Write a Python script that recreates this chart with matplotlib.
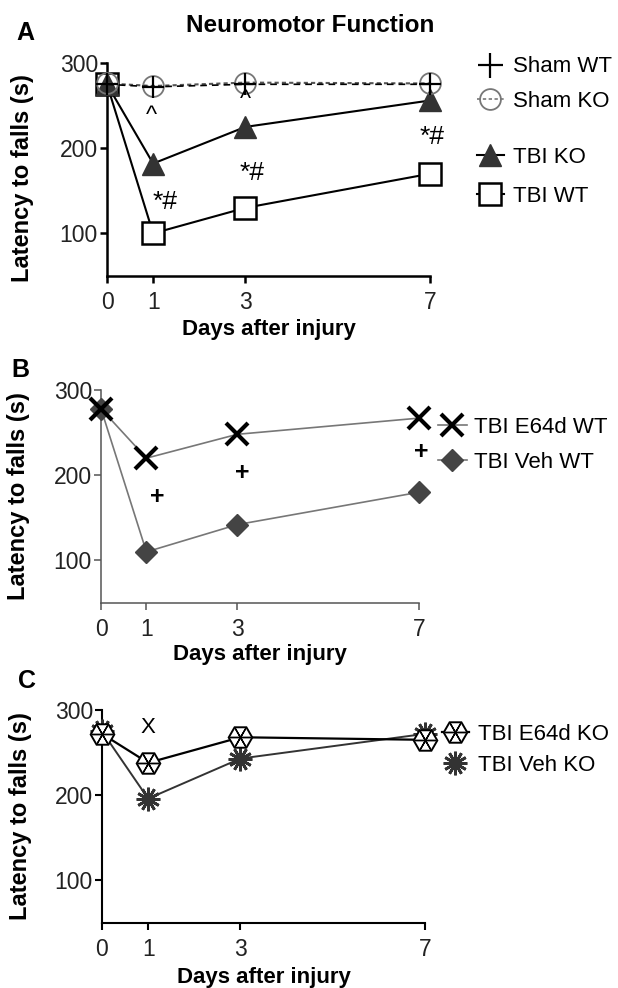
import matplotlib
matplotlib.use("Agg")
from matplotlib import pyplot as plt
from matplotlib.lines import Line2D

plt.rcParams['font.family'] = ['Liberation Sans', 'DejaVu Sans']

days = [0, 1, 3, 7]
day_ticks = [0, 1, 3, 7]
y_ticks = [100, 200, 300]

# panel A
sham_wt = [275, 272, 275, 275]
sham_ko = [276, 273, 277, 276]
tbi_ko = [275, 182, 225, 256]
tbi_wt = [275, 100, 130, 170]
a_caret_x = [0.96, 3.0]
a_caret_y = [238, 256]
a_star_x = [1.26, 3.15, 7.05]
a_star_y = [137, 171, 213]

# panel B
e64d_wt = [278, 220, 248, 267]
veh_wt = [278, 110, 142, 180]
b_plus_x = [1.23, 3.12, 7.05]
b_plus_y = [174, 202, 227]

# panel C
e64d_ko = [272, 238, 268, 265]
veh_ko = [275, 196, 243, 272]
c_x_x = [1.0]
c_x_y = [280]

W, H = 618, 988
fig = plt.figure(figsize=(W / 100, H / 100), dpi=100)


def px_axes(left, right, top, bottom):
    ax = fig.add_axes([left / W, 1 - bottom / H, (right - left) / W, (bottom - top) / H])
    ax.px_box = (left, right, top, bottom)
    return ax


def style_axes(ax, spine_col, lw, ylab_right, ylab_mid, xlab_top):
    left, right, top, bottom = ax.px_box
    ax.set_xlim(0, 7)
    ax.set_ylim(50, 300)
    ax.set_xticks(day_ticks)
    ax.set_yticks(y_ticks)
    ax.spines['top'].set_visible(False)
    ax.spines['right'].set_visible(False)
    for s in ['left', 'bottom']:
        ax.spines[s].set_color(spine_col)
        ax.spines[s].set_linewidth(lw)
    ax.tick_params(colors=spine_col, width=lw, length=5, labelsize=16.5,
                   labelcolor='#222222')
    ax.tick_params(axis='x', pad=6)
    ax.tick_params(axis='y', pad=1.5)
    ax.set_xlabel('Days after injury', fontsize=16, fontweight='bold')
    ax.set_ylabel('Latency to falls (s)', fontsize=17, fontweight='bold')
    ax.yaxis.set_label_coords((ylab_right - left) / (right - left),
                              (bottom - ylab_mid) / (bottom - top))
    ax.xaxis.set_label_coords(0.5, (bottom - xlab_top) / (bottom - top))


# ---------------- A ----------------
axA = px_axes(107, 430, 63, 276)
style_axes(axA, 'black', 1.8, 34, 178, 319)
axA.plot(days, tbi_wt, color='black', lw=1.5, marker='s', ms=16,
         mfc='white', mec='black', mew=1.8, clip_on=False, zorder=3)
axA.plot(days, tbi_ko, color='black', lw=1.5, marker='^', ms=16,
         mfc='#333333', mec='#333333', clip_on=False, zorder=4)
axA.plot(days, sham_ko, color='#555555', lw=1.5, ls=(0, (2, 1.5)), marker='o',
         ms=15, mfc='none', mec='#777777', mew=1.3, clip_on=False, zorder=5)
axA.plot(days, sham_wt, color='black', lw=1.2, ls=(0, (4, 3)), marker='+',
         ms=16, mec='black', mew=1.6, clip_on=False, zorder=6)
for x, y in zip(a_caret_x, a_caret_y):
    axA.text(x, y, '^', ha='center', va='center', fontsize=17, zorder=8)
for x, y in zip(a_star_x, a_star_y):
    axA.text(x, y, '*#', ha='center', va='center', fontsize=19)

leg1 = axA.legend(handles=[
    Line2D([], [], ls='none', marker='+', ms=18, mec='black', mew=1.6),
    Line2D([], [], color='#777777', ls=(0, (2, 1.5)), lw=1.2, marker='o', ms=15,
           mfc='none', mec='#777777', mew=1.3)],
    labels=['Sham WT', 'Sham KO'], loc='center left',
    bbox_to_anchor=(477 / W, 1 - 84 / H), bbox_transform=fig.transFigure,
    frameon=False, fontsize=16, handlelength=1.2, handletextpad=0.4,
    labelspacing=0.59, borderpad=0, borderaxespad=0)
axA.add_artist(leg1)
axA.legend(handles=[
    Line2D([], [], color='black', lw=1.5, marker='^', ms=16, mfc='#333333',
           mec='#333333'),
    Line2D([], [], color='black', lw=1.5, marker='s', ms=16, mfc='white',
           mec='black', mew=1.8)],
    labels=['TBI KO', 'TBI WT'], loc='center left',
    bbox_to_anchor=(477 / W, 1 - 177 / H), bbox_transform=fig.transFigure,
    frameon=False, fontsize=16, handlelength=1.2, handletextpad=0.4,
    labelspacing=0.8, borderpad=0, borderaxespad=0)

fig.text(310 / W, 1 - 25 / H, 'Neuromotor Function', ha='center', va='center',
         fontsize=17.5, fontweight='bold')
fig.text(25 / W, 1 - 33 / H, 'A', ha='center', va='center', fontsize=18,
         fontweight='bold')

# ---------------- B ----------------
axB = px_axes(101, 419, 390, 603)
style_axes(axB, '#555555', 1.1, 30, 496, 644)
axB.plot(days, veh_wt, color='#777777', lw=1.2, marker='D', ms=11,
         mfc='#444444', mec='#444444', clip_on=False, zorder=3)
axB.plot(days, e64d_wt, color='#777777', lw=1.2, marker='x', ms=16,
         mec='black', mew=3, clip_on=False, zorder=4)
for x, y in zip(b_plus_x, b_plus_y):
    axB.text(x, y, '+', ha='center', va='center', fontsize=18, fontweight='bold')
axB.legend(handles=[
    Line2D([], [], color='#777777', lw=1.2, marker='x', ms=16, mec='black', mew=3),
    Line2D([], [], color='#777777', lw=1.2, marker='D', ms=11, mfc='#444444',
           mec='#444444')],
    labels=['TBI E64d WT', 'TBI Veh WT'], loc='center left',
    bbox_to_anchor=(438 / W, 1 - 445 / H), bbox_transform=fig.transFigure,
    frameon=False, fontsize=16, handlelength=1.3, handletextpad=0.3,
    labelspacing=0.63, borderpad=0, borderaxespad=0)
fig.text(20 / W, 1 - 370 / H, 'B', ha='center', va='center', fontsize=18,
         fontweight='bold')

# ---------------- C ----------------
axC = px_axes(102, 425, 710, 923)
style_axes(axC, 'black', 1.5, 32, 816, 967)
axC.plot(days, veh_ko, color='#333333', lw=1.4, marker=(12, 2, 0), ms=17,
         mec='#333333', mew=2, clip_on=False, zorder=3)
axC.plot(days, e64d_ko, color='black', lw=1.6, marker='H', ms=17,
         mfc='white', mec='black', mew=1.4, clip_on=False, zorder=4)
axC.plot(days, e64d_ko, ls='none', marker=(6, 2, 30), ms=15, mec='black',
         mew=1.0, clip_on=False, zorder=5)
for x, y in zip(c_x_x, c_x_y):
    axC.text(x, y, 'X', ha='center', va='center', fontsize=16)
hex_h = (Line2D([], [], color='black', lw=1.6, marker='H', ms=17, mfc='white',
                mec='black', mew=1.4),
         Line2D([], [], ls='none', marker=(6, 2, 30), ms=15, mec='black', mew=1.0))
axC.legend(handles=[hex_h,
                    Line2D([], [], ls='none', marker=(12, 2, 0), ms=17,
                           mec='#333333', mew=2)],
           labels=['TBI E64d KO', 'TBI Veh KO'], loc='center left',
           bbox_to_anchor=(442 / W, 1 - 750 / H), bbox_transform=fig.transFigure,
           frameon=False, fontsize=16, handlelength=1.2, handletextpad=0.4,
           labelspacing=0.45, borderpad=0, borderaxespad=0)
fig.text(27 / W, 1 - 681 / H, 'C', ha='center', va='center', fontsize=18,
         fontweight='bold')

fig.savefig('out.png', dpi=100)
